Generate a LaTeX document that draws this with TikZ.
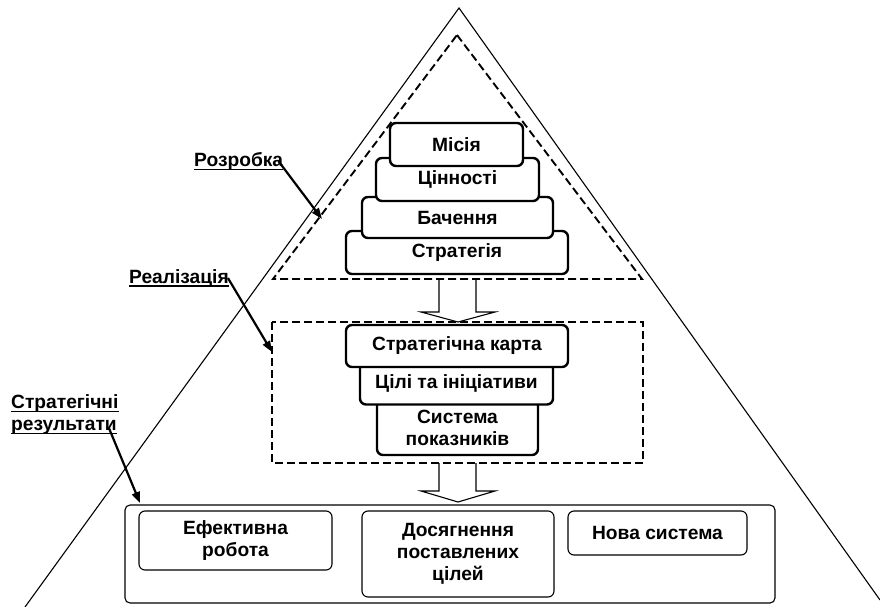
\documentclass[tikz,border=0pt]{standalone}
\usepackage{fontspec}
\setmainfont{Liberation Sans}
\usetikzlibrary{arrows.meta}
\begin{document}
\begin{tikzpicture}[x=1pt,y=-1pt,
  every node/.style={font=\fontsize{19.2}{22}\selectfont\bfseries, align=center, inner sep=0pt},
  tbox/.style={draw, line width=2.4pt, rounded corners=6pt, fill=white},
  bbox/.style={draw, line width=1.1pt, rounded corners=6pt, fill=white},
  dsh/.style={line width=1.9pt, dash pattern=on 8pt off 4pt},
  hol/.style={line width=1.1pt, line join=miter},
  ptr/.style={line width=2.2pt, -{Triangle[length=11pt,width=8pt]}},
  lbl/.style={anchor=base west},
  uline/.style={line width=1.9pt}]
\useasboundingbox (0,0) rectangle (880,607);

% outer pyramid
\coordinate (apex) at (459,8);
\coordinate (bl) at (25,607);
\coordinate (br) at (880,600);
\draw[line width=1.1pt] (bl) -- (apex) -- (br);

% hollow arrows
\draw[hol] (439,279) -- (439,312) -- (421,312) -- (458,322) -- (495,312) -- (476,312) -- (476,279);
\draw[hol] (439,463) -- (439,491) -- (421,491) -- (458,502) -- (495,491) -- (476,491) -- (476,463);

% dashed frames
\draw[dsh] (457,35) -- (642,279) -- (273,279) -- cycle;
\draw[dsh] (272,322) rectangle (643,463);

% top stack
\node[tbox, minimum width=222, minimum height=43] (strat) at (457,252.5) {Стратегія};
\node[tbox, minimum width=191, minimum height=41] (bach) at (457.5,217.5) {Бачення};
\node[tbox, minimum width=163, minimum height=43] (tsin) at (457.5,179.5) {Цінності};
\node[tbox, minimum width=133, minimum height=43] (mis) at (456.5,144.5) {Місія};

% middle stack
\node[tbox, minimum width=161, minimum height=55] (sys) at (457.5,427.5) {Система\\показників};
\node[tbox, minimum width=193, minimum height=42] (tsili) at (456.5,383.5) {Цілі та ініціативи};
\node[tbox, minimum width=222, minimum height=42] (karta) at (457,346) {Стратегічна карта};

% results
\node[draw, line width=1.1pt, rounded corners=5pt, minimum width=650, minimum height=98] (res) at (450,554) {};
\node[bbox, minimum width=193, minimum height=59] (ef) at (235.5,540.5) {Ефективна\\робота};
\node[bbox, minimum width=192, minimum height=86] (dos) at (458,554) {Досягнення\\поставлених\\цілей};
\node[bbox, minimum width=179, minimum height=44] (nova) at (657.5,533) {Нова система};

% labels
\node[lbl] (lr) at (194,166) {Розробка};
\draw[uline] ([yshift=-3.5pt]lr.base west) -- ([yshift=-3.5pt]lr.base east);
\coordinate (dr) at (322,219);
\draw[ptr] ([xshift=-5pt,yshift=5pt]lr.base east) -- (dr);

\node[lbl] (lre) at (129,283) {Реалізація};
\draw[uline] ([yshift=-3pt]lre.base west) -- ([yshift=-3pt]lre.base east);
\coordinate (dre) at (272,352);
\draw[ptr] ([xshift=-1pt,yshift=5pt]lre.base east) -- (dre);

\node[lbl] (ls1) at (11,408) {Стратегічні};
\node[lbl] (ls2) at (11,430) {результати};
\draw[uline] ([yshift=-3.5pt]ls1.base west) -- ([yshift=-3.5pt]ls1.base east);
\draw[uline] ([yshift=-3.5pt]ls2.base west) -- ([yshift=-3.5pt]ls2.base east);
\coordinate (drs) at (140,503);
\draw[ptr] ([xshift=-8pt,yshift=2pt]ls2.base east) -- (drs);
\end{tikzpicture}
\end{document}
